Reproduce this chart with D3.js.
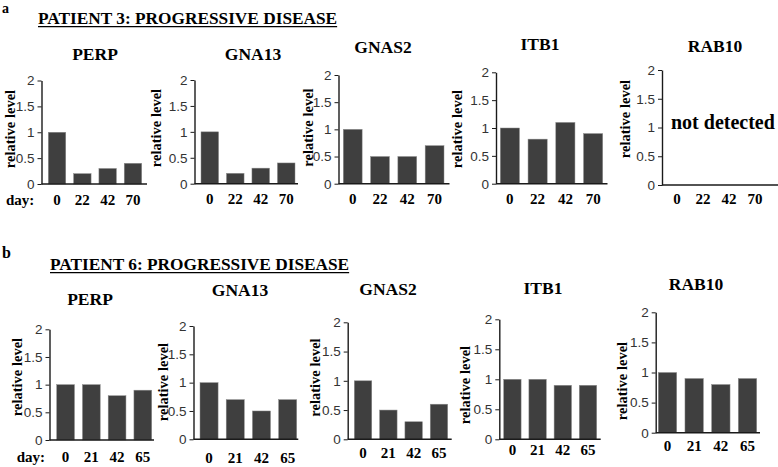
<!DOCTYPE html>
<html>
<head>
<meta charset="utf-8">
<script src="https://cdn.jsdelivr.net/npm/d3@7"></script>
<style>
  html, body { margin: 0; padding: 0; background: #fff; }
  svg { display: block; }
</style>
</head>
<body>
<svg id="chart" width="778" height="467"></svg>
<script>
// ---------- data ----------
const genes = ["PERP", "GNA13", "GNAS2", "ITB1", "RAB10"];
const daysP3 = ["0", "22", "42", "70"];
const daysP6 = ["0", "21", "42", "65"];
const yTicks = [0, 0.5, 1, 1.5, 2];

const p3PERP  = [1.0, 0.2, 0.3, 0.4];
const p3GNA13 = [1.0, 0.2, 0.3, 0.4];
const p3GNAS2 = [1.0, 0.5, 0.5, 0.7];
const p3ITB1  = [1.0, 0.8, 1.1, 0.9];
const p3RAB10 = []; // not detected

const p6PERP  = [1.0, 1.0, 0.8, 0.9];
const p6GNA13 = [1.0, 0.7, 0.5, 0.7];
const p6GNAS2 = [1.0, 0.5, 0.3, 0.6];
const p6ITB1  = [1.0, 1.0, 0.9, 0.9];
const p6RAB10 = [1.0, 0.9, 0.8, 0.9];

const titleP3 = "PATIENT 3: PROGRESSIVE DISEASE";
const titleP6 = "PATIENT 6: PROGRESSIVE DISEASE";
const yLabel = "relative level";
const notDetected = "not detected";

// ---------- layout (positions only) ----------
const layoutTop = [
  {ax: 41.5, top: 80.5, base: 184,   barL: 48.3,  barR: 141.7, lineR: 147,   tx: 95,  ty: 60, lx: 10,  ly: 129,   xlab: 205},
  {ax: 194.5, top: 80,  base: 183.7, barL: 201,   barR: 295,   lineR: 298,   tx: 253, ty: 60, lx: 156, ly: 128,   xlab: 203.5},
  {ax: 338.5, top: 75,  base: 183.7, barL: 343.3, barR: 444,   lineR: 449.5, tx: 383, ty: 53, lx: 308, ly: 127.5, xlab: 203.5},
  {ax: 496,   top: 72.3,base: 183.7, barL: 500.3, barR: 602.7, lineR: 607.5, tx: 540, ty: 50, lx: 457, ly: 129,   xlab: 203.5},
  {ax: 662,   top: 70,  base: 185,   barL: 668,   barR: 764,   lineR: 778,   tx: 715, ty: 52, lx: 625, ly: 119,   xlab: 203.5}
];
const layoutBottom = [
  {ax: 49.5,  top: 329.3, base: 440,   barL: 56.7,  barR: 151.7, lineR: 154,   tx: 90,  ty: 305, lx: 17,  ly: 377,   xlab: 462},
  {ax: 193.5, top: 326,   base: 439.3, barL: 200,   barR: 296.7, lineR: 298.3, tx: 240, ty: 296, lx: 163, ly: 382,   xlab: 462.5},
  {ax: 347.7, top: 322.3, base: 439.3, barL: 354.3, barR: 447.7, lineR: 451.7, tx: 388, ty: 295, lx: 315, ly: 377.5, xlab: 458},
  {ax: 499.3, top: 319.3, base: 439.3, barL: 503.7, barR: 596.7, lineR: 600.7, tx: 543, ty: 294, lx: 465, ly: 385,   xlab: 455},
  {ax: 655.7, top: 312.3, base: 432.7, barL: 658.3, barR: 756.7, lineR: 760,   tx: 696, ty: 290, lx: 622, ly: 381,   xlab: 451}
];

const serif = "'Liberation Serif', 'Times New Roman', serif";
const sans = "'Liberation Sans', Arial, sans-serif";
const barFill = "#3f3f3f";
const axisColor = "#1a1a1a";

const svg = d3.select("#chart");

function header(letter, lx, ly, lsize, text, x, y) {
  svg.append("text").attr("x", lx).attr("y", ly)
    .attr("font-family", serif).attr("font-weight", "bold").attr("font-size", lsize)
    .attr("fill", "#000").text(letter);
  const t = svg.append("text").attr("x", x).attr("y", y)
    .attr("font-family", serif).attr("font-weight", "bold").attr("font-size", 17.3)
    .attr("fill", "#000").text(text);
  const w = t.node().getComputedTextLength();
  svg.append("line").attr("x1", x).attr("x2", x + w)
    .attr("y1", y + 2.6).attr("y2", y + 2.6)
    .attr("stroke", "#000").attr("stroke-width", 1.4);
}

function panel(L, gene, days, values, showDay, dayX) {
  const g = svg.append("g");
  const y = d3.scaleLinear().domain([0, 2]).range([L.base, L.top]);
  const x = d3.scaleBand().domain(days).range([L.barL, L.barR])
    .paddingInner(0.31).paddingOuter(0);

  // title
  g.append("text").attr("x", L.tx).attr("y", L.ty)
    .attr("text-anchor", "middle")
    .attr("font-family", serif).attr("font-weight", "bold").attr("font-size", 17.5)
    .attr("fill", "#000").text(gene);

  // y label
  g.append("text")
    .attr("transform", `translate(${L.lx},${L.ly}) rotate(-90)`)
    .attr("text-anchor", "middle").attr("dy", "0.35em")
    .attr("font-family", serif).attr("font-weight", "bold").attr("font-size", 14.5)
    .attr("fill", "#000").text(yLabel);

  // bars
  g.selectAll("rect.bar").data(values).join("rect")
    .attr("class", "bar")
    .attr("x", (d, i) => x(days[i]))
    .attr("width", x.bandwidth())
    .attr("y", d => y(d))
    .attr("height", d => y(0) - y(d))
    .attr("fill", barFill)
    .attr("stroke", "#8c8c8c").attr("stroke-width", 0.5);

  // y axis
  const ya = g.append("g").attr("transform", `translate(${L.ax},0)`)
    .call(d3.axisLeft(y).tickValues(yTicks).tickSize(4).tickSizeOuter(0).tickPadding(3)
      .tickFormat(d => String(d)));
  ya.select(".domain").attr("stroke", axisColor).attr("stroke-width", 1.4);
  ya.selectAll(".tick line").attr("stroke", axisColor).attr("stroke-width", 1);
  ya.selectAll(".tick text").attr("font-family", sans).attr("font-size", 13.5).attr("fill", "#333");

  // x axis line
  g.append("line").attr("x1", L.ax).attr("x2", L.lineR)
    .attr("y1", y(0)).attr("y2", y(0))
    .attr("stroke", axisColor).attr("stroke-width", 1.6);

  // x labels
  g.selectAll("text.xl").data(days).join("text")
    .attr("class", "xl")
    .attr("x", d => x(d) + x.bandwidth() / 2)
    .attr("y", L.xlab)
    .attr("text-anchor", "middle")
    .attr("font-family", serif).attr("font-weight", "bold").attr("font-size", 15)
    .attr("fill", "#000").text(d => d);

  if (showDay) {
    g.append("text").attr("x", dayX).attr("y", L.xlab)
      .attr("font-family", serif).attr("font-weight", "bold").attr("font-size", 15)
      .attr("fill", "#000").text("day:");
  }
  return {g, x, y};
}

header("a", 2, 13, 14, titleP3, 38, 24);
header("b", 2, 258, 16, titleP6, 50, 270);

const p3 = [p3PERP, p3GNA13, p3GNAS2, p3ITB1, p3RAB10];
const p6 = [p6PERP, p6GNA13, p6GNAS2, p6ITB1, p6RAB10];

genes.forEach((gene, i) => {
  const r = panel(layoutTop[i], gene, daysP3, p3[i], i === 0, 6);
  if (p3[i].length === 0) {
    r.g.append("text").attr("x", layoutTop[i].ax + 9).attr("y", r.y(1) + 1)
      .attr("font-family", serif).attr("font-weight", "bold").attr("font-size", 20)
      .attr("fill", "#000").text(notDetected);
  }
});
genes.forEach((gene, i) => {
  panel(layoutBottom[i], gene, daysP6, p6[i], i === 0, 16.7);
});
</script>
</body>
</html>
